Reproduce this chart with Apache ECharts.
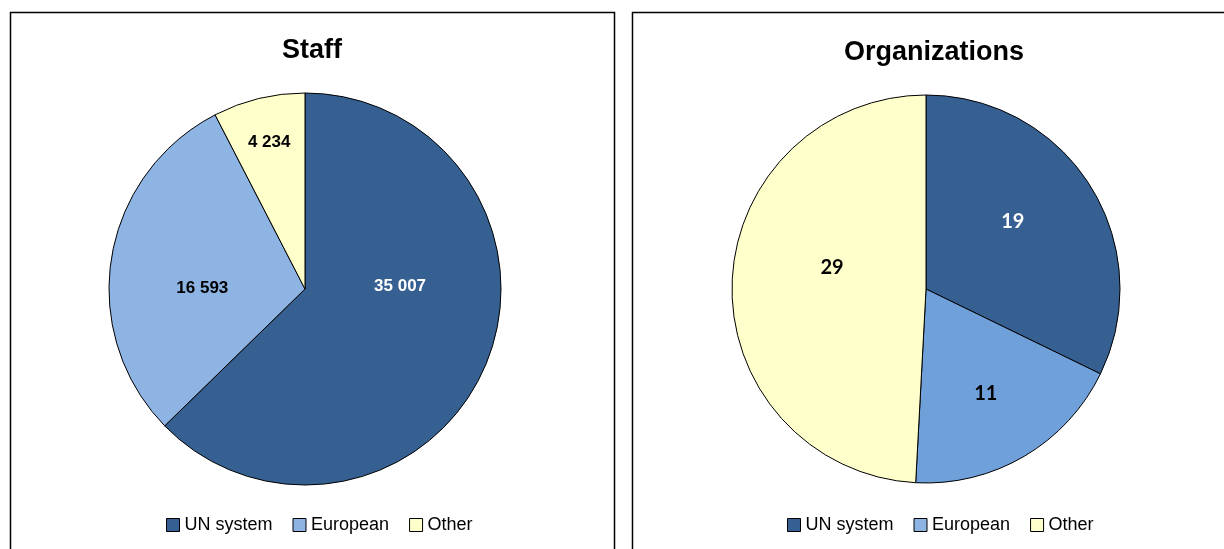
<!DOCTYPE html>
<html><head><meta charset="utf-8">
<script src="https://cdn.jsdelivr.net/npm/echarts@6/dist/echarts.min.js"></script>
<style>html,body{margin:0;padding:0;background:#fff}#c{width:1224px;height:549px}</style>
</head><body><div id="c"></div>
<script>
const categories = ['UN system', 'European', 'Other'];
const staffValues = [35007, 16593, 4234];
const orgValues = [19, 11, 29];
const titles = ['Staff', 'Organizations'];

const narrow = '"Liberation Sans Narrow", "Arial Narrow", "Liberation Sans", Arial, sans-serif';
const staffColors = ['#376092', '#8EB4E3', '#FFFFCC'];
const orgColors = ['#376092', '#6FA0DA', '#FFFFCC'];
const labelColors = ['#fff', '#000', '#000'];
const staffOffsets = [[2, -42], [-3, 15], [-12, -49]];
const orgOffsets = [[2, -14], [9, 18], [6, -19]];

function fmtSpace(v) {
  return String(v).replace(/\B(?=(\d{3})+(?!\d))/g, ' ');
}
function buildData(values, colors, offsets) {
  return categories.map((c, i) => ({
    name: c, value: values[i],
    itemStyle: { color: colors[i] },
    label: { color: labelColors[i], offset: offsets[i] }
  }));
}

const chart = echarts.init(document.getElementById('c'), null, { renderer: 'canvas' });
chart.setOption({
  animation: false,
  graphic: [
    { type: 'rect', shape: { x: 10.5, y: 12.5, width: 604, height: 560 }, style: { fill: 'none', stroke: '#000', lineWidth: 1.5 }, z: 0 },
    { type: 'rect', shape: { x: 632.5, y: 12.5, width: 600, height: 560 }, style: { fill: 'none', stroke: '#000', lineWidth: 1.5 }, z: 0 }
  ],
  title: [
    { text: titles[0], left: 307, top: 32, textAlign: 'center', textStyle: { fontFamily: narrow, fontWeight: 'bold', fontSize: 27, color: '#000' } },
    { text: titles[1], left: 929, top: 34, textAlign: 'center', textStyle: { fontFamily: narrow, fontWeight: 'bold', fontSize: 27, color: '#000' } }
  ],
  legend: [
    { seriesIndex: 0, data: categories, left: 161, top: 511, icon: 'rect', itemWidth: 13, itemHeight: 13, itemGap: 20,
      itemStyle: { borderColor: '#000', borderWidth: 1 },
      textStyle: { fontFamily: narrow, fontSize: 18, color: '#000' } },
    { seriesIndex: 1, data: categories, left: 782, top: 511, icon: 'rect', itemWidth: 13, itemHeight: 13, itemGap: 20,
      itemStyle: { borderColor: '#000', borderWidth: 1 },
      textStyle: { fontFamily: narrow, fontSize: 18, color: '#000' } }
  ],
  series: [
    { type: 'pie', name: 'Staff', center: [305, 289], radius: 196, startAngle: 90, clockwise: true,
      itemStyle: { borderColor: '#000', borderWidth: 1 },
      label: { show: true, position: 'inside', fontFamily: narrow, fontWeight: 'bold', fontSize: 17,
        formatter: p => fmtSpace(p.value) },
      emphasis: { disabled: true },
      data: buildData(staffValues, staffColors, staffOffsets) },
    { type: 'pie', name: 'Organizations', center: [926, 289], radius: 194, startAngle: 90, clockwise: true,
      itemStyle: { borderColor: '#000', borderWidth: 1 },
      label: { show: true, position: 'inside', fontFamily: 'Lato, "Open Sans", sans-serif', fontWeight: 'bold', fontSize: 20,
        formatter: p => String(p.value) },
      emphasis: { disabled: true },
      data: buildData(orgValues, orgColors, orgOffsets) }
  ]
});
</script></body></html>
